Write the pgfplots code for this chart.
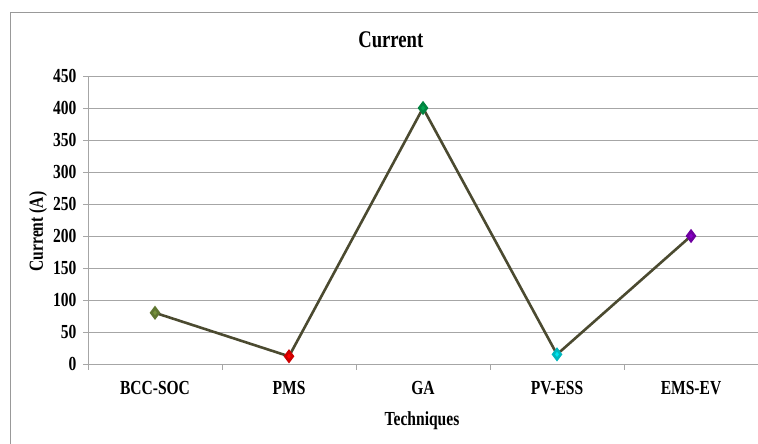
\documentclass[border=0pt]{standalone}
\usepackage{pgfplots}
\pgfplotsset{compat=1.18}
\usepackage{fontspec}
\setmainfont{Liberation Serif}[FakeStretch=0.78]
\definecolor{linec}{HTML}{4B4A30}
\definecolor{gridc}{HTML}{A6A6A6}
\definecolor{mk1}{HTML}{77933C}
\definecolor{mk2}{HTML}{FF0000}
\definecolor{mk3}{HTML}{00A550}
\definecolor{mk4}{HTML}{00E5EE}
\definecolor{mk5}{HTML}{8A00C8}
\pgfplotstableread{
x y c
0 80 a
1 12 b
2 400 c
3 15 d
4 200 e
}\current
\begin{document}
\begin{tikzpicture}[x=1bp,y=1bp]
\path[use as bounding box] (0,0) rectangle (758,444);
\draw[gray!80, line width=0.8bp] (10,0) -- (10,432) -- (760,432);
\begin{axis}[
  at={(88bp,80bp)}, anchor=south west,
  scale only axis, width=670bp, height=288bp,
  xmin=-0.5, xmax=4.5, ymin=0, ymax=450,
  axis x line*=bottom, axis y line*=left,
  axis line style={gridc, line width=0.8bp},
  xtick={0,...,4},
  xticklabels={BCC-SOC,PMS,GA,PV-ESS,EMS-EV},
  minor xtick={-0.5,0.5,1.5,2.5,3.5,4.5},
  major x tick style={draw=none},
  minor x tick style={gridc, line width=0.8bp},
  ytick={0,50,...,450},
  y tick style={gridc, line width=0.8bp},
  tick align=outside,
  minor tick length=6bp, major tick length=5bp,
  ymajorgrids, grid style={gridc, line width=0.8bp},
  ticklabel style={font=\bfseries\fontsize{20}{20}\selectfont},
  /pgf/number format/assume math mode=true,
  xticklabel style={yshift=-9bp},
  yticklabel style={xshift=-3bp},
  title={Current},
  title style={font=\bfseries\fontsize{24}{24}\selectfont, at={(axis description cs:0.452,1)}, anchor=center, yshift=30bp},
  xlabel={Techniques},
  xlabel style={font=\bfseries\fontsize{20}{20}\selectfont, at={(axis description cs:0.4985,0)}, anchor=center, yshift=-57bp},
  ylabel={Current (A)},
  ylabel style={font=\bfseries\fontsize{20}{20}\selectfont, at={(axis description cs:0,0.46)}, anchor=center, yshift=50bp},
  clip=false,
]
\addplot[linec, line width=2.6bp, scatter, scatter src=explicit symbolic,
  scatter/classes={
    a={mark=diamond*, mark size=5bp, fill=mk1, draw=mk1!80!black},
    b={mark=diamond*, mark size=5bp, fill=mk2, draw=mk2!80!black},
    c={mark=diamond*, mark size=5bp, fill=mk3, draw=mk3!80!black},
    d={mark=diamond*, mark size=5bp, fill=mk4, draw=mk4!80!black},
    e={mark=diamond*, mark size=5bp, fill=mk5, draw=mk5!80!black}}]
  table[x=x, y=y, meta=c] {\current};
\end{axis}
\end{tikzpicture}
\end{document}
